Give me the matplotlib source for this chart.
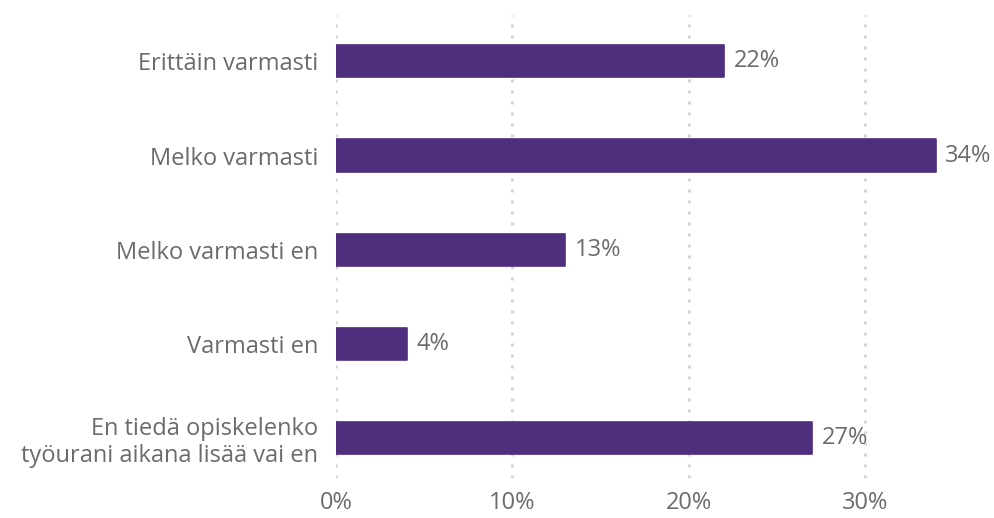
import matplotlib.pyplot as plt

plt.rcParams['font.family'] = ['Open Sans', 'DejaVu Sans']

categories = ["Erittäin varmasti", "Melko varmasti", "Melko varmasti en",
              "Varmasti en", "En tiedä opiskelenko\ntyöurani aikana lisää vai en"]
values = [22, 34, 13, 4, 27]
ticks = [0, 10, 20, 30]

bar_color = "#4f2f7d"
text_color = "#6b6b6b"
fs = 17

fig = plt.figure(figsize=(9.95, 5.18), dpi=100)
ax = fig.add_axes([0.3377, 0.0772, 0.6593, 0.8938])

ypos = list(range(len(categories)))
bars = ax.barh(ypos, values, height=0.34, color=bar_color,
               edgecolor=bar_color, linewidth=1.2, zorder=3)
for b in bars:
    b.set_joinstyle('round')

for y, v in zip(ypos, values):
    ax.annotate(f"{v}%", xy=(v, y), xytext=(7, 0), textcoords="offset points",
                va="center", ha="left", fontsize=fs, color=text_color)

ax.set_xlim(0, 37.2)
ax.set_ylim(4.42, -0.49)
ax.set_yticks(ypos)
ax.set_yticklabels(categories, fontsize=fs, color=text_color, linespacing=1.15)
ax.set_xticks(ticks)
ax.set_xticklabels([f"{t}%" for t in ticks], fontsize=fs, color=text_color)
ax.tick_params(axis='both', length=0)
ax.tick_params(axis='y', pad=13)
ax.tick_params(axis='x', pad=9)

ax.grid(axis='x', color="#d6d6d6", linewidth=2.2, linestyle=(0, (1, 2.6)), zorder=0)
ax.grid(axis='y', visible=False)
for s in ax.spines.values():
    s.set_visible(False)

fig.savefig("out.png", dpi=100)
